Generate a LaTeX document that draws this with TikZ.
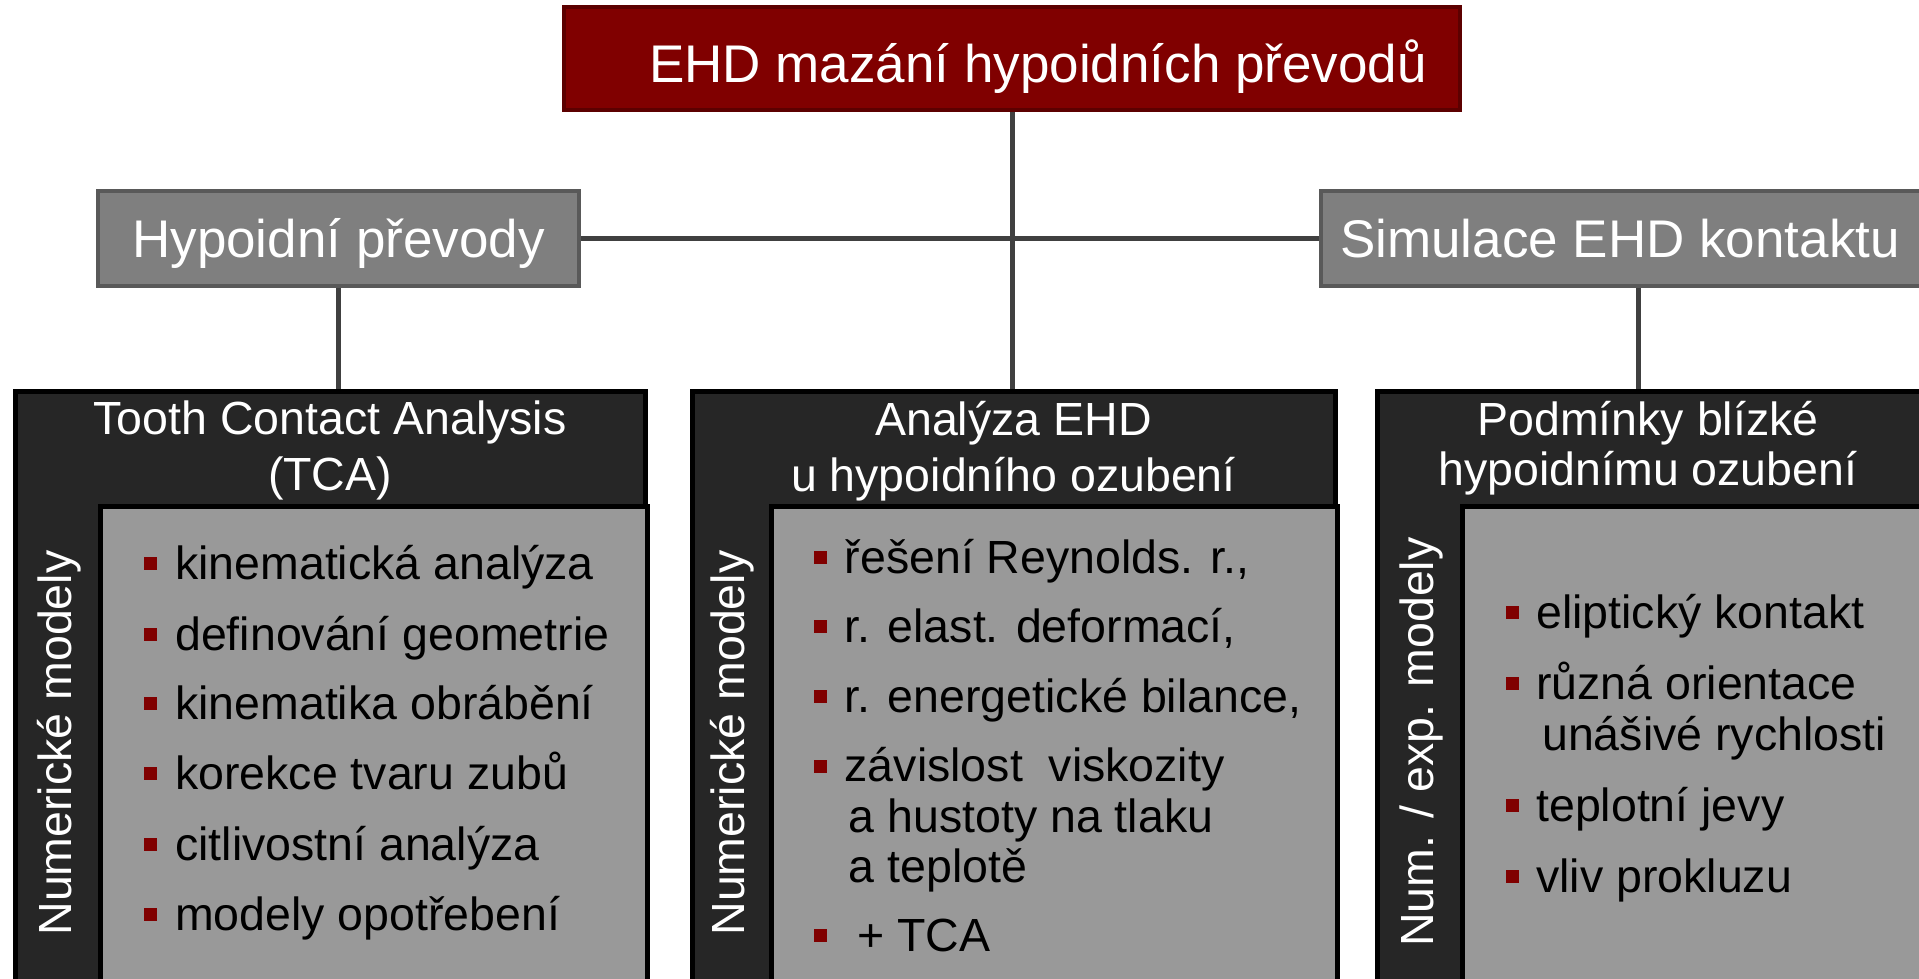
\documentclass[tikz,border=0pt]{standalone}
\usepackage{fontspec}
\setmainfont{Liberation Sans}
\usetikzlibrary{backgrounds}
\definecolor{titlered}{HTML}{800000}
\definecolor{titleborder}{HTML}{5C0000}
\definecolor{lvlgray}{HTML}{7F7F7F}
\definecolor{lvlborder}{HTML}{595959}
\definecolor{connc}{HTML}{404040}
\definecolor{darkc}{HTML}{262626}
\definecolor{contentgray}{HTML}{999999}
\definecolor{bulletred}{HTML}{800000}
\begin{document}
\begin{tikzpicture}[x=1pt,y=-1pt,
  titlebox/.style={draw=titleborder, fill=titlered, line width=4pt, minimum width=896pt, minimum height=103pt, text=white, inner sep=0pt, text height=47pt, text depth=0pt, font=\fontsize{53}{60}\selectfont},
  lvlbox/.style={draw=lvlborder, fill=lvlgray, line width=4pt, minimum height=95pt, text=white, inner sep=0pt, text height=38pt, text depth=0pt, font=\fontsize{53}{60}\selectfont},
  conn/.style={draw=connc, line width=5pt},
  bigbox/.style={draw=black, line width=5pt, fill=darkc, minimum height=620pt, anchor=north, inner sep=0pt},
  contentbox/.style={draw=black, line width=5pt, fill=contentgray, anchor=north west, inner sep=0pt, minimum height=520pt},
  headtext/.style={text=white, align=center, anchor=north, inner sep=0pt, font=\fontsize{46.5}{56}\selectfont},
  sidetext/.style={text=white, rotate=90, anchor=base, inner sep=0pt, font=\fontsize{46.5}{56}\selectfont},
  itemtext/.style={anchor=base west, inner sep=0pt, align=left, font=\fontsize{46.5}{50.5}\selectfont},
  bul/.style={fill=bulletred, minimum size=13pt, inner sep=0pt}
]
\useasboundingbox (0,0) rectangle (1919,978);
\clip (0,0) rectangle (1919,978);

% top level
\node[titlebox] (title) at (1012,58.5) {\hspace*{52pt}EHD mazání hypoidních převodů};
\node[lvlbox, minimum width=481pt] (hyp) at (338.5,238.5) {Hypoidní převody};
\node[lvlbox, minimum width=634pt] (sim) at (1638,238.5) {\hspace*{-36pt}Simulace EHD kontaktu};

% big boxes
\node[bigbox, minimum width=630pt] (left) at (330,389) {};
\node[bigbox, minimum width=643pt] (mid) at (1013.5,389) {};
\node[bigbox, minimum width=548pt] (right) at (1651,389) {};

\node[contentbox, minimum width=547pt] (leftc) at (98,504) {};
\node[contentbox, minimum width=566pt] (midc) at (769,504) {};
\node[contentbox, minimum width=465pt] (rightc) at (1460,504) {};

% headers
\node[headtext] (lefth) at (330,401) {Tooth Contact Analysis\\(TCA)};
\node[headtext] (midh) at (1013.5,401) {Analýza EHD\\u hypoidního ozubení};
\node[headtext, font=\fontsize{46.5}{50}\selectfont] (righth) at (1648,401) {Podmínky blízké\\hypoidnímu ozubení};

% side labels
\node[sidetext] (lefts) at (71,743) {Numerické modely};
\node[sidetext] (mids) at (744,743) {Numerické modely};
\node[sidetext] (rights) at (1433,742) {Num. / exp. modely};

% left items
\node[bul] (lb1) at (150.5,563) {};
\node[itemtext] (li1) at (175,579) {kinematická analýza};
\node[bul] (lb2) at (150.5,634) {};
\node[itemtext] (li2) at (175,650) {definování geometrie};
\node[bul] (lb3) at (150.5,703.7) {};
\node[itemtext] (li3) at (175,719.7) {kinematika obrábění};
\node[bul] (lb4) at (150.5,773.5) {};
\node[itemtext] (li4) at (175,789.5) {korekce tvaru zubů};
\node[bul] (lb5) at (150.5,844.5) {};
\node[itemtext] (li5) at (175,860.5) {citlivostní analýza};
\node[bul] (lb6) at (150.5,914.3) {};
\node[itemtext] (li6) at (175,930.3) {modely opotřebení};

% middle items
\node[bul] (mb1) at (820,557) {};
\node[itemtext] (mi1) at (844.5,573) {řešení Reynolds. r.,};
\node[bul] (mb2) at (820,626.6) {};
\node[itemtext] (mi2) at (844.5,642.6) {r. elast. deformací,};
\node[bul] (mb3) at (820,696.4) {};
\node[itemtext] (mi3) at (844.5,712.4) {r. energetické bilance,};
\node[bul] (mb4) at (820,766.2) {};
\node[itemtext, font=\fontsize{46.5}{50.3}\selectfont] (mi4) at (844.5,882.5) {závislost\ \ viskozity\\\hspace*{4pt}a hustoty na tlaku\\\hspace*{4pt}a teplotě};
\node[bul] (mb5) at (820,935) {};
\node[itemtext] (mi5) at (857,951) {+ TCA};

% right items
\node[bul] (rb1) at (1512,612) {};
\node[itemtext] (ri1) at (1536,628) {eliptický kontakt};
\node[bul] (rb2) at (1512,683) {};
\node[itemtext, font=\fontsize{46.5}{51}\selectfont] (ri2) at (1536,750) {různá orientace\\\hspace*{6pt}unášivé rychlosti};
\node[bul] (rb3) at (1512,805.3) {};
\node[itemtext] (ri3) at (1536,821.3) {teplotní jevy};
\node[bul] (rb4) at (1512,876.3) {};
\node[itemtext] (ri4) at (1536,892.3) {vliv prokluzu};

% connectors
\begin{scope}[on background layer]
\draw[conn] (title.south) -- (title.south |- mid.north);
\draw[conn] (hyp.east) -- (sim.west);
\draw[conn] (hyp.south) -- (hyp.south |- left.north);
\draw[conn] (sim.south) -- (sim.south |- right.north);
\end{scope}
\end{tikzpicture}
\end{document}
